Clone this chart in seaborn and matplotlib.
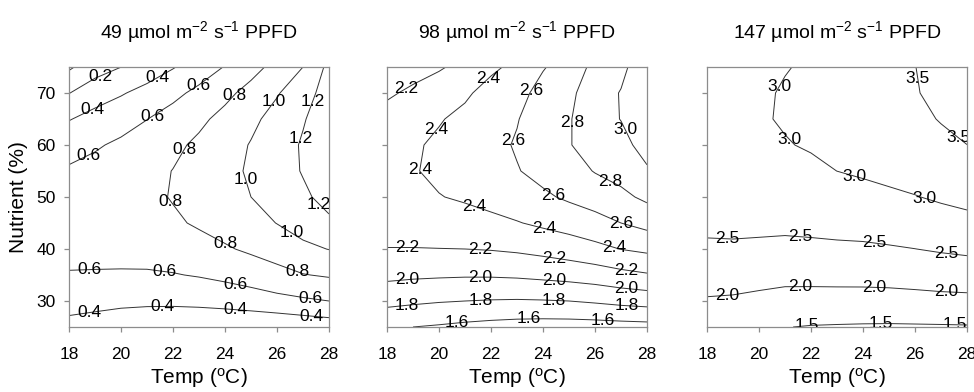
import matplotlib
matplotlib.use('Agg')
import matplotlib.pyplot as plt
import numpy as np
import seaborn as sns

# grid of the response surface, rows = nutrient (%), columns = temperature (oC)
temps = [18, 19, 20, 21, 22, 23, 24, 25, 26, 27, 28]
nutrients = [25, 30, 35, 40, 45, 50, 55, 60, 65, 70, 75]

z_49 = [
    [0.356, 0.345, 0.322, 0.295, 0.262, 0.243, 0.232, 0.230, 0.235, 0.262, 0.288],
    [0.456, 0.439, 0.430, 0.429, 0.436, 0.450, 0.473, 0.504, 0.542, 0.570, 0.600],
    [0.591, 0.588, 0.583, 0.579, 0.590, 0.613, 0.646, 0.687, 0.736, 0.792, 0.820],
    [0.641, 0.644, 0.655, 0.674, 0.702, 0.737, 0.780, 0.831, 0.890, 0.957, 1.005],
    [0.674, 0.687, 0.709, 0.738, 0.775, 0.821, 0.874, 0.935, 1.004, 1.082, 1.167],
    [0.667, 0.691, 0.722, 0.762, 0.810, 0.865, 0.929, 1.000, 1.079, 1.167, 1.262],
    [0.621, 0.655, 0.697, 0.747, 0.804, 0.870, 0.944, 1.025, 1.115, 1.212, 1.318],
    [0.535, 0.580, 0.632, 0.692, 0.760, 0.835, 0.919, 1.011, 1.111, 1.219, 1.334],
    [0.390, 0.465, 0.527, 0.597, 0.675, 0.761, 0.855, 0.957, 1.067, 1.185, 1.311],
    [0.195, 0.310, 0.383, 0.463, 0.552, 0.648, 0.752, 0.864, 0.985, 1.113, 1.290],
    [-0.030, 0.116, 0.199, 0.290, 0.388, 0.495, 0.609, 0.732, 0.862, 1.000, 1.250],
]

z_98 = [
    [1.624, 1.600, 1.580, 1.555, 1.535, 1.520, 1.512, 1.512, 1.516, 1.525, 1.533],
    [1.857, 1.833, 1.813, 1.800, 1.790, 1.785, 1.790, 1.800, 1.824, 1.855, 1.878],
    [2.047, 2.032, 2.024, 2.018, 2.019, 2.029, 2.049, 2.071, 2.100, 2.144, 2.181],
    [2.194, 2.194, 2.197, 2.200, 2.210, 2.229, 2.259, 2.298, 2.346, 2.404, 2.442],
    [2.297, 2.298, 2.315, 2.331, 2.356, 2.390, 2.435, 2.479, 2.534, 2.600, 2.662],
    [2.358, 2.363, 2.394, 2.421, 2.460, 2.510, 2.569, 2.630, 2.684, 2.754, 2.840],
    [2.375, 2.389, 2.432, 2.470, 2.523, 2.590, 2.657, 2.720, 2.810, 2.870, 2.977],
    [2.349, 2.378, 2.430, 2.478, 2.545, 2.617, 2.703, 2.790, 2.880, 2.940, 3.073],
    [2.280, 2.328, 2.387, 2.445, 2.526, 2.590, 2.706, 2.785, 2.920, 3.005, 3.127],
    [2.168, 2.241, 2.303, 2.372, 2.466, 2.535, 2.667, 2.750, 2.925, 3.008, 3.139],
    [2.012, 2.116, 2.179, 2.257, 2.365, 2.445, 2.586, 2.690, 2.850, 2.960, 3.110],
]

z_147 = [
    [1.659, 1.627, 1.559, 1.510, 1.478, 1.465, 1.455, 1.450, 1.455, 1.460, 1.468],
    [1.958, 1.937, 1.886, 1.835, 1.830, 1.828, 1.825, 1.830, 1.848, 1.871, 1.882],
    [2.214, 2.205, 2.170, 2.135, 2.137, 2.145, 2.150, 2.165, 2.194, 2.228, 2.254],
    [2.427, 2.430, 2.411, 2.395, 2.402, 2.415, 2.430, 2.460, 2.497, 2.545, 2.585],
    [2.598, 2.613, 2.609, 2.598, 2.624, 2.660, 2.673, 2.714, 2.761, 2.821, 2.875],
    [2.726, 2.753, 2.763, 2.769, 2.802, 2.851, 2.881, 2.930, 2.984, 3.057, 3.125],
    [2.812, 2.851, 2.875, 2.897, 2.937, 3.001, 3.049, 3.106, 3.167, 3.252, 3.333],
    [2.855, 2.906, 2.944, 2.983, 3.028, 3.108, 3.177, 3.242, 3.310, 3.407, 3.498],
    [2.856, 2.919, 2.970, 3.026, 3.076, 3.175, 3.265, 3.338, 3.413, 3.521, 3.627],
    [2.814, 2.889, 2.953, 3.027, 3.081, 3.200, 3.313, 3.394, 3.477, 3.595, 3.712],
    [2.730, 2.817, 2.892, 2.985, 3.041, 3.183, 3.321, 3.410, 3.495, 3.628, 3.756],
]

ppfd = [49, 98, 147]
levels_49 = [0.0, 0.2, 0.4, 0.6, 0.8, 1.0, 1.2]
levels_98 = [1.6, 1.8, 2.0, 2.2, 2.4, 2.6, 2.8, 3.0]
levels_147 = [1.5, 2.0, 2.5, 3.0, 3.5]

x_ticks = [18, 20, 22, 24, 26, 28]
y_ticks = [30, 40, 50, 60, 70]

# where the contour labels sit (temp, nutrient)
labels_49 = [(19.3, 72.1), (21.5, 72.1), (23.05, 70.8), (24.4, 69.3), (25.9, 68.3),
             (27.45, 68.3), (19.0, 65.7), (21.3, 64.8), (26.9, 61.3), (18.8, 57.4),
             (22.5, 59.0), (24.7, 53.3), (21.8, 48.8), (27.6, 48.5), (26.55, 43.1),
             (24.0, 40.8), (26.8, 36.0), (18.8, 36.0), (21.65, 35.4), (24.4, 33.2),
             (27.3, 30.8), (18.8, 27.7), (21.6, 29.0), (24.4, 28.3), (27.3, 26.8)]
labels_98 = [(18.77, 70.5), (21.93, 72.7), (23.53, 70.5), (25.08, 64.4), (27.07, 62.7),
             (19.87, 63.1), (22.76, 61.1), (19.09, 55.5), (26.56, 52.7), (24.43, 50.5),
             (21.35, 47.9), (27.0, 45.0), (24.05, 43.7), (26.75, 40.2), (18.77, 40.2),
             (21.6, 39.8), (24.43, 38.1), (27.2, 36.0), (18.77, 33.8), (21.6, 34.5),
             (24.43, 33.8), (27.2, 32.1), (18.77, 28.9), (21.6, 30.2), (24.43, 30.2),
             (27.2, 28.9), (20.7, 25.8), (23.47, 26.6), (26.3, 26.3)]
labels_147 = [(20.7, 71.5), (26.04, 72.7), (21.15, 60.8), (27.6, 61.1), (23.66, 54.0),
              (26.37, 49.8), (18.77, 42.1), (21.6, 42.2), (24.43, 41.1), (27.2, 39.4),
              (18.77, 31.3), (21.6, 32.5), (24.43, 32.5), (27.2, 31.9), (21.86, 25.0),
              (24.7, 25.6), (27.52, 25.4)]

sns.set_theme(style='ticks')
plt.rcParams['font.family'] = ['Liberation Sans', 'DejaVu Sans']
plt.rcParams['mathtext.fontset'] = 'custom'
plt.rcParams['mathtext.rm'] = 'Liberation Sans'
plt.rcParams['mathtext.it'] = 'Liberation Sans:italic'
plt.rcParams['mathtext.bf'] = 'Liberation Sans:bold'

fig = plt.figure(figsize=(9.74, 3.92), dpi=100)
W, H = 974, 392
lefts = [69, 387, 707]
panels = [(z_49, levels_49, labels_49), (z_98, levels_98, labels_98),
          (z_147, levels_147, labels_147)]

T, N = np.meshgrid(temps, nutrients)
for i, (z, levels, lab_pos) in enumerate(panels):
    ax = fig.add_axes([lefts[i] / W, (H - 327) / H, 260 / W, 260 / H])
    cs = ax.contour(T, N, np.array(z), levels=levels, colors='#333333',
                    linewidths=0.7)
    texts = ax.clabel(cs, manual=lab_pos, inline=False, fontsize=12.5,
                      fmt='%.1f', colors='black')
    for t in texts:
        t.set_rotation(0)

    ax.set_xlim(18, 28)
    ax.set_ylim(25, 75)
    ax.set_xticks(x_ticks)
    ax.set_yticks(y_ticks)
    for sp in ax.spines.values():
        sp.set_color('#8c8c8c')
        sp.set_linewidth(0.9)
    ax.tick_params(direction='out', length=3.5, width=0.9, color='#8c8c8c',
                   labelsize=12.5, labelcolor='black')
    ax.tick_params(axis='x', pad=11)
    ax.tick_params(axis='y', pad=6)
    ax.set_title(f'{ppfd[i]} µmol m$^{{-2}}$ s$^{{-1}}$ PPFD', fontsize=14,
                 pad=21, color='black')
    ax.set_xlabel('Temp ($^{\\mathrm{o}}$C)', fontsize=15, labelpad=3, color='black')
    if i == 0:
        ax.set_ylabel('Nutrient (%)', fontsize=15, labelpad=6, color='black')
    else:
        ax.set_yticklabels([])

fig.savefig('out.png', dpi=100)
